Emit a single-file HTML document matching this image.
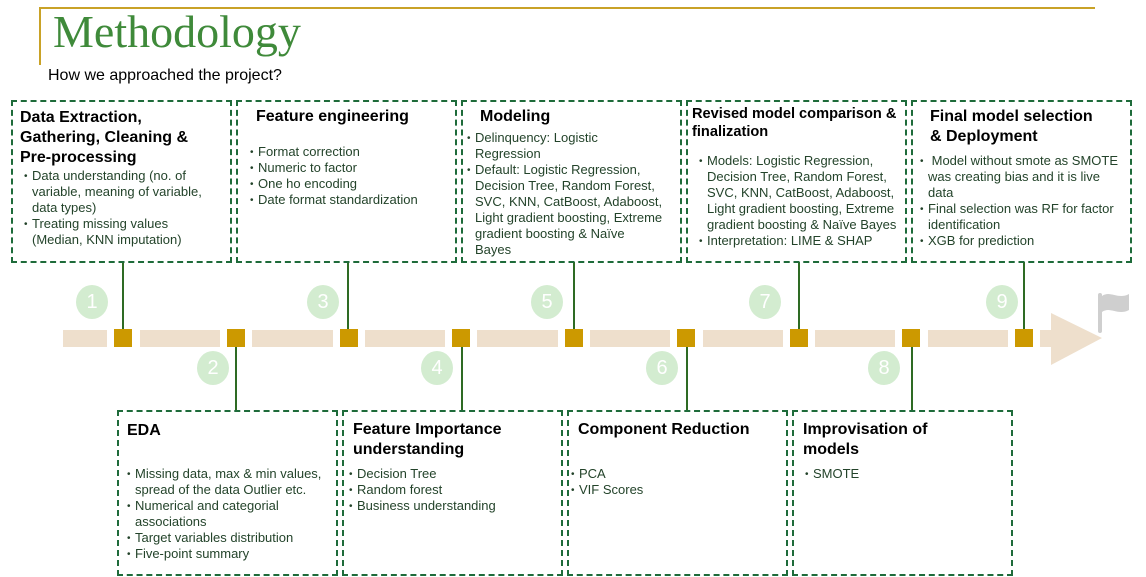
<!DOCTYPE html>
<html><head><meta charset="utf-8"><style>
body{margin:0;width:1146px;height:577px;position:relative;background:#fff;overflow:hidden;font-family:"Liberation Sans",sans-serif}
.a{position:absolute}
.box{position:absolute;border:2px dashed #1e6b3a;box-sizing:border-box}
.h{position:absolute;font-weight:bold;font-size:16px;line-height:20px;color:#000;white-space:nowrap}
.l{position:absolute;font-size:13px;line-height:16px;color:#23432a}
.l div{position:relative;padding-left:8px;white-space:nowrap;height:auto}
.l div:before{content:"•";font-size:10px;position:absolute;left:0;top:1px;line-height:16px}
.seg{position:absolute;background:#eedfcc;top:330px;height:17px}
.sq{position:absolute;background:#cc9900;top:329px;width:18px;height:18px}
.c{position:absolute;width:32px;height:34px;border-radius:50%;background:#d3ecd0;color:#fff;font-size:20px;line-height:34px;text-align:center}
.v{position:absolute;width:1.5px;background:#2e6b24}
</style></head><body>
<div class="a" style="left:39px;top:7px;width:1056px;height:2px;background:#c9a227"></div>
<div class="a" style="left:39px;top:7px;width:2px;height:58px;background:#c9a227"></div>
<div class="a" style="left:53px;top:6px;font-family:'Liberation Serif',serif;font-size:46px;line-height:52px;color:#3f8a3a">Methodology</div>
<div class="a" style="left:48px;top:67px;font-size:16px;color:#000">How we approached the project?</div>

<div class="seg" style="left:63px;width:44px"></div>
<div class="seg" style="left:140px;width:80px"></div>
<div class="seg" style="left:252px;width:81px"></div>
<div class="seg" style="left:365px;width:80px"></div>
<div class="seg" style="left:477px;width:81px"></div>
<div class="seg" style="left:590px;width:80px"></div>
<div class="seg" style="left:703px;width:80px"></div>
<div class="seg" style="left:815px;width:80px"></div>
<div class="seg" style="left:928px;width:80px"></div>
<div class="seg" style="left:1040px;width:14px"></div>
<svg class="a" style="left:1050px;top:312px" width="54" height="54"><polygon points="1,1 52,26 1,53" fill="#eedfcc"/></svg>
<svg class="a" style="left:1096px;top:290px" width="40" height="46"><rect x="2" y="3" width="4" height="40" rx="2" fill="#cfcfcf"/><path d="M6,6 C14,0 22,10 33,4 L33,20 C22,26 14,16 6,22 Z" fill="#cfcfcf"/></svg>
<div class="sq" style="left:114px"></div><div class="sq" style="left:227px"></div>
<div class="sq" style="left:340px"></div><div class="sq" style="left:452px"></div>
<div class="sq" style="left:565px"></div><div class="sq" style="left:677px"></div>
<div class="sq" style="left:790px"></div><div class="sq" style="left:902px"></div>
<div class="sq" style="left:1015px"></div>

<div class="c" style="left:76px;top:285px">1</div>
<div class="c" style="left:197px;top:351px">2</div>
<div class="c" style="left:307px;top:285px">3</div>
<div class="c" style="left:421px;top:351px">4</div>
<div class="c" style="left:531px;top:285px">5</div>
<div class="c" style="left:646px;top:351px">6</div>
<div class="c" style="left:749px;top:285px">7</div>
<div class="c" style="left:868px;top:351px">8</div>
<div class="c" style="left:986px;top:285px">9</div>

<div class="v" style="left:122px;top:262px;height:67px"></div>
<div class="v" style="left:347px;top:262px;height:67px"></div>
<div class="v" style="left:573px;top:262px;height:67px"></div>
<div class="v" style="left:798px;top:262px;height:67px"></div>
<div class="v" style="left:1023px;top:262px;height:67px"></div>
<div class="v" style="left:235px;top:347px;height:64px"></div>
<div class="v" style="left:461px;top:347px;height:64px"></div>
<div class="v" style="left:686px;top:347px;height:64px"></div>
<div class="v" style="left:911px;top:347px;height:64px"></div>

<div class="box" style="left:11px;top:100px;width:221px;height:163px"></div>
<div class="box" style="left:236px;top:100px;width:221px;height:163px"></div>
<div class="box" style="left:461px;top:100px;width:221px;height:163px"></div>
<div class="box" style="left:686px;top:100px;width:221px;height:163px"></div>
<div class="box" style="left:911px;top:100px;width:221px;height:163px"></div>

<div class="h" style="left:20px;top:108px">Data Extraction,<br>Gathering, Cleaning &amp;<br>Pre-processing</div>
<div class="l" style="left:24px;top:168px"><div>Data understanding (no. of<br>variable, meaning of variable,<br>data types)</div><div>Treating missing values<br>(Median, KNN imputation)</div></div>

<div class="h" style="left:256px;top:107px">Feature engineering</div>
<div class="l" style="left:250px;top:144px"><div>Format correction</div><div>Numeric to factor</div><div>One ho encoding</div><div>Date format standardization</div></div>

<div class="h" style="left:480px;top:107px">Modeling</div>
<div class="l" style="left:467px;top:130px"><div>Delinquency: Logistic<br>Regression</div><div>Default: Logistic Regression,<br>Decision Tree, Random Forest,<br>SVC, KNN, CatBoost, Adaboost,<br>Light gradient boosting, Extreme<br>gradient boosting &amp; Naïve<br>Bayes</div></div>

<div class="h" style="left:692px;top:105px;font-size:14.6px;line-height:18px">Revised model comparison &amp;<br>finalization</div>
<div class="l" style="left:699px;top:153px"><div>Models: Logistic Regression,<br>Decision Tree, Random Forest,<br>SVC, KNN, CatBoost, Adaboost,<br>Light gradient boosting, Extreme<br>gradient boosting &amp; Naïve Bayes</div><div>Interpretation: LIME &amp; SHAP</div></div>

<div class="h" style="left:930px;top:107px">Final model selection<br>&amp; Deployment</div>
<div class="l" style="left:920px;top:153px"><div>&nbsp;Model without smote as SMOTE<br>was creating bias and it is live<br>data</div><div>Final selection was RF for factor<br>identification</div><div>XGB for prediction</div></div>

<div class="box" style="left:117px;top:410px;width:221px;height:166px"></div>
<div class="box" style="left:342px;top:410px;width:221px;height:166px"></div>
<div class="box" style="left:567px;top:410px;width:221px;height:166px"></div>
<div class="box" style="left:792px;top:410px;width:221px;height:166px"></div>

<div class="h" style="left:127px;top:421px">EDA</div>
<div class="l" style="left:127px;top:466px"><div>Missing data, max &amp; min values,<br>spread of the data Outlier etc.</div><div>Numerical and categorial<br>associations</div><div>Target variables distribution</div><div>Five-point summary</div></div>

<div class="h" style="left:353px;top:420px">Feature Importance<br>understanding</div>
<div class="l" style="left:349px;top:466px"><div>Decision Tree</div><div>Random forest</div><div>Business understanding</div></div>

<div class="h" style="left:578px;top:420px">Component Reduction</div>
<div class="l" style="left:571px;top:466px"><div>PCA</div><div>VIF Scores</div></div>

<div class="h" style="left:803px;top:420px">Improvisation of<br>models</div>
<div class="l" style="left:805px;top:466px"><div>SMOTE</div></div>
</body></html>
